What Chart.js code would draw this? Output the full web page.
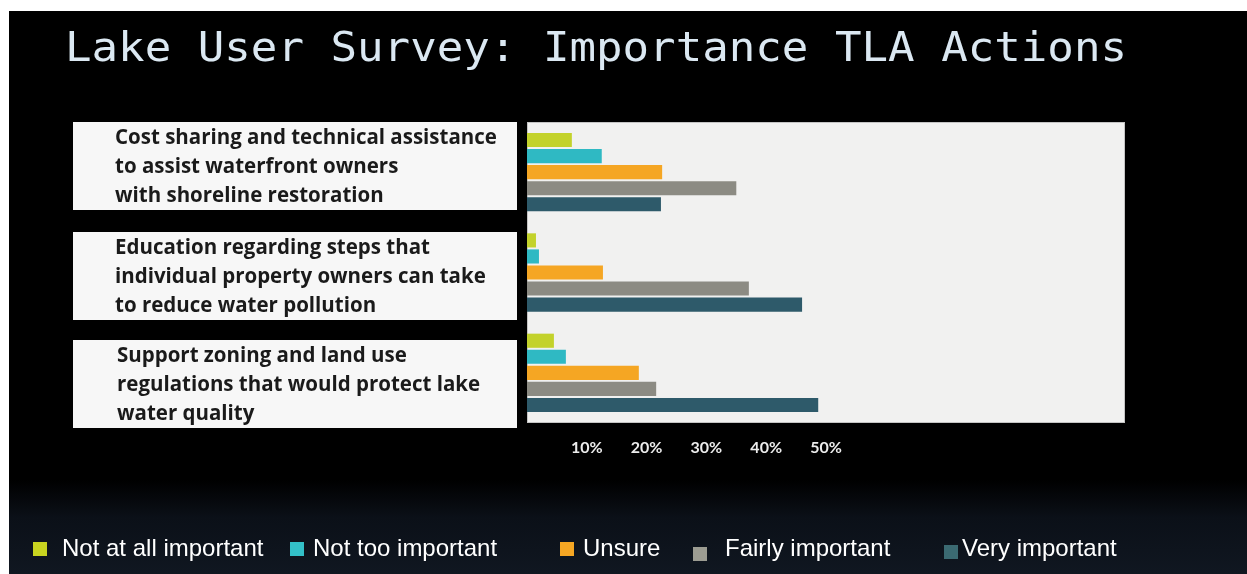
<!DOCTYPE html>
<html>
<head>
<meta charset="utf-8">
<script src="https://cdn.jsdelivr.net/npm/chart.js@4.4.1/dist/chart.umd.min.js"></script>
<style>
  html, body { margin: 0; padding: 0; background: #fff; overflow: hidden; }
  #wrap { width: 1247px; height: 574px; position: relative; }
  canvas { display: block; }
</style>
</head>
<body>
<div id="wrap"><canvas id="c" width="1247" height="574"></canvas></div>
<script>
// Survey data: share of respondents (%) per answer, for each action
const titleText = 'Lake User Survey: Importance TLA Actions';
const categories = [
  ['Cost sharing and technical assistance', 'to assist waterfront owners', 'with shoreline restoration'],
  ['Education regarding steps that', 'individual property owners can take', 'to reduce water pollution'],
  ['Support zoning and land use', 'regulations that would protect lake', 'water quality']
];
const seriesNames = ['Not at all important', 'Not too important', 'Unsure', 'Fairly important', 'Very important'];
const notAtAllImportant = [7.5, 1.5, 4.5];
const notTooImportant   = [12.5, 2.0, 6.5];
const unsure            = [22.6, 12.7, 18.7];
const fairlyImportant   = [35.0, 37.1, 21.6];
const veryImportant     = [22.4, 46.0, 48.7];
const tickValues = [10, 20, 30, 40, 50];
const tickLabels = ['10%', '20%', '30%', '40%', '50%'];

const seriesValues = [notAtAllImportant, notTooImportant, unsure, fairlyImportant, veryImportant];
const barColors = ['#c3d22b', '#2fb9c3', '#f5a623', '#8c8b83', '#2e5a6a'];
const swatchColors = ['#c8d420', '#33c0c8', '#f5a623', '#9c9c92', '#3b6a72'];

// Slide backdrop, plot panel, title, label boxes and legend
const slidePlugin = {
  id: 'slide',
  beforeDraw(chart) {
    const { ctx, width, height, chartArea: a } = chart;
    ctx.save();
    ctx.fillStyle = '#ffffff';
    ctx.fillRect(0, 0, width, height);
    ctx.fillStyle = '#000000';
    ctx.fillRect(9, 11, width - 9, height - 11);
    const g = ctx.createLinearGradient(0, 480, 0, height);
    g.addColorStop(0, 'rgba(14,20,30,0)');
    g.addColorStop(0.4, 'rgba(14,20,30,0.8)');
    g.addColorStop(1, 'rgba(16,23,33,1)');
    ctx.fillStyle = g;
    ctx.fillRect(9, 480, width - 9, height - 480);
    // plot panel
    ctx.fillStyle = '#f1f1f0';
    ctx.fillRect(a.left, a.top, a.right - a.left, a.bottom - a.top);
    ctx.strokeStyle = '#c4c4c4';
    ctx.lineWidth = 1;
    ctx.strokeRect(a.left + 0.5, a.top + 0.5, a.right - a.left - 1, a.bottom - a.top - 1);
    ctx.restore();
  },
  afterDraw(chart) {
    const { ctx } = chart;
    ctx.save();
    // title, monospace, stretched to span the slide width
    ctx.font = '40px "DejaVu Sans Mono"';
    ctx.fillStyle = '#dbe8f2';
    ctx.textBaseline = 'alphabetic';
    const tw = ctx.measureText(titleText).width;
    ctx.save();
    ctx.translate(65, 61);
    ctx.scale(1062 / tw, 1.0);
    ctx.fillText(titleText, 0, 0);
    ctx.restore();

    // category label boxes; font sized so the longest first line fills the box
    const boxTops = [122, 232, 340];
    const lineOffsets = [16, 45, 74];
    ctx.font = 'bold 20px "Open Sans"';
    const w0 = ctx.measureText(categories[0][0]).width;
    const fs = Math.min(24, 20 * 382 / w0);
    ctx.font = 'bold ' + fs.toFixed(2) + 'px "Open Sans"';
    ctx.textBaseline = 'middle';
    ctx.textAlign = 'left';
    categories.forEach((lines, i) => {
      ctx.fillStyle = '#f7f7f7';
      ctx.fillRect(73, boxTops[i], 444, 88);
      ctx.fillStyle = '#1a1a1a';
      lines.forEach((ln, j) => {
        ctx.fillText(ln, i === 2 ? 117 : 115, boxTops[i] + lineOffsets[j]);
      });
    });

    // legend
    const itemX = [33, 290, 560, 693, 944];
    const textX = [62, 313, 583, 725, 962];
    const swatchY = [542, 542, 542, 547, 545];
    ctx.font = '24px "Liberation Sans"';
    ctx.textBaseline = 'middle';
    chart.data.datasets.forEach((ds, i) => {
      ctx.fillStyle = swatchColors[i];
      ctx.fillRect(itemX[i], swatchY[i], 14, 14);
      ctx.fillStyle = '#ffffff';
      ctx.fillText(ds.label, textX[i], 549);
    });
    ctx.restore();
  }
};

new Chart(document.getElementById('c'), {
  type: 'bar',
  data: {
    labels: categories,
    datasets: seriesNames.map((name, i) => ({
      label: name,
      data: seriesValues[i],
      backgroundColor: barColors[i],
      borderWidth: 0,
      barPercentage: 0.88,
      categoryPercentage: 0.8
    }))
  },
  options: {
    indexAxis: 'y',
    responsive: false,
    animation: false,
    devicePixelRatio: 1,
    layout: { padding: { left: 527, right: 122, top: 122, bottom: 0 } },
    plugins: {
      legend: { display: false },
      title: { display: false },
      tooltip: { enabled: false }
    },
    scales: {
      y: { display: false },
      x: {
        min: 0,
        max: 100,
        position: 'bottom',
        grid: { display: false, drawTicks: false },
        border: { display: false },
        afterBuildTicks(scale) {
          scale.ticks = tickValues.map(v => ({ value: v }));
        },
        afterFit(scale) {
          scale.height = 151;
        },
        ticks: {
          autoSkip: false,
          maxRotation: 0,
          padding: 15,
          color: '#ececec',
          font: { family: 'Lato', weight: 'bold', size: 16 },
          callback(v) {
            const k = tickValues.indexOf(v);
            return k >= 0 ? tickLabels[k] : '';
          }
        }
      }
    }
  },
  plugins: [slidePlugin]
});
</script>
</body>
</html>
